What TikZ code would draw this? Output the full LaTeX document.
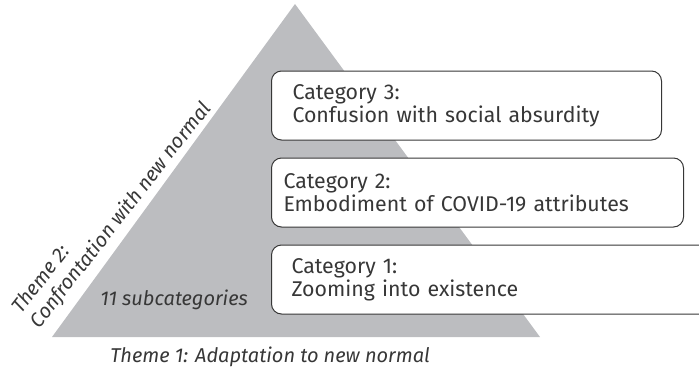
\documentclass[tikz,border=0pt]{standalone}
\usepackage{fontspec}
\setmainfont{Fira Sans}
\usetikzlibrary{positioning}
\definecolor{pyramidgray}{RGB}{188,189,192}
\definecolor{labelgray}{RGB}{55,55,55}
\newcommand{\catfont}{\fontsize{16}{17.25}\selectfont}
\newcommand{\themefont}{\fontsize{15}{17.5}\selectfont\itshape}
\tikzset{
 catbox/.style={draw=labelgray,fill=white,rounded corners=7.5pt,line width=.75pt,
  minimum height=51.75pt,inner ysep=0pt,align=left,font=\catfont},
 themelabel/.style={font=\themefont,inner sep=0pt},
}

\begin{document}
\begin{tikzpicture}[x=.75pt,y=-.75pt,line cap=round,line join=round,text=labelgray]
% wspolrzedne w pikselach obrazu 699x379, os y w dol
% trojkat: (52,337), (295,4), (540,337); pudelka od x=271
\path[use as bounding box,clip] (0,0) rectangle (699,379);
\fill[pyramidgray] (52,337)--(295,4)--(540,337)--cycle;
\node[catbox,anchor=west,inner xsep=15.75pt,text width=261pt] (cat3) at (271,105.5)
 {Category 3:\\Confusion with social absurdity};
\node[catbox,below=12.75pt of cat3.south west,anchor=north west,inner xsep=9pt,text width=291pt] (cat2)
 {Category 2:\\Embodiment of COVID-19 attributes};
\node[catbox,below=12.75pt of cat2.south west,anchor=north west,inner xsep=15pt,text width=322.5pt] (cat1)
 {Category 1:\\Zooming into existence};
\node[themelabel,anchor=base west] (subcats) at (100,305) {11 subcategories};
\node[themelabel,anchor=base west] (theme1) at (110,362) {Theme 1: Adaptation to new normal};
\node[themelabel,align=left,rotate=52,anchor=south west] (theme2) at (43,332)
 {Theme 2:\\Confrontation with new normal};
\end{tikzpicture}
\end{document}
